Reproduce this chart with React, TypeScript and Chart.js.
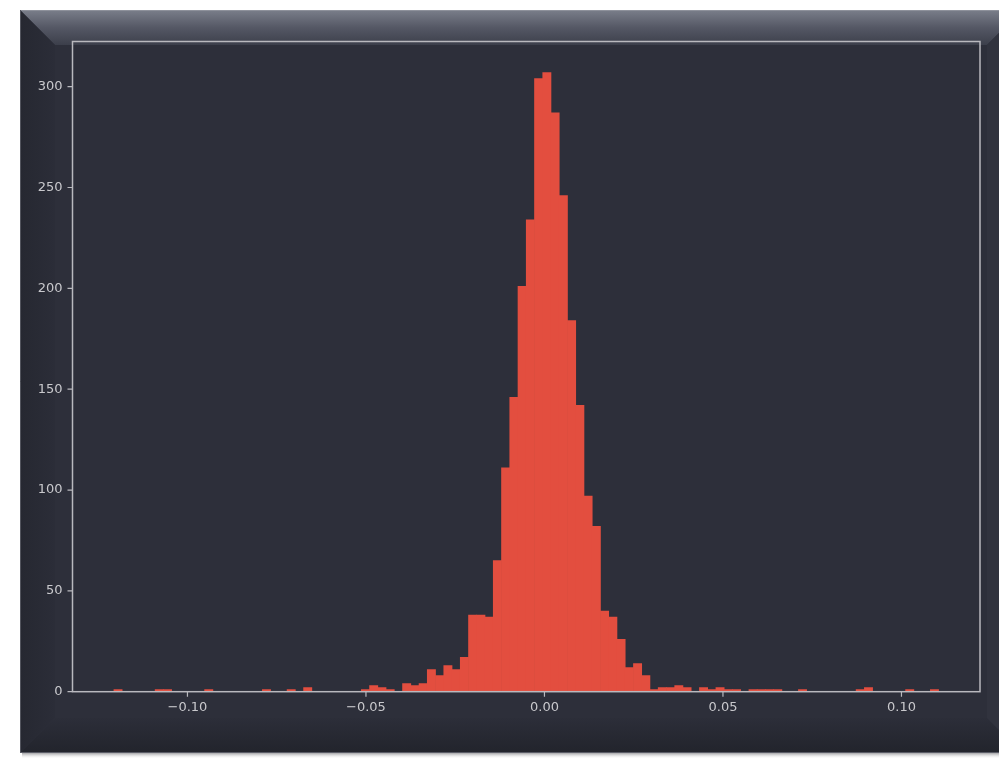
import { useEffect, useRef } from 'react';
import { Chart, registerables } from 'chart.js';

Chart.register(...registerables);

// Histogram definition (100 equal bins)
const binStart = -0.1206;
const binWidth = 0.00231;
const counts: number[] = [
  1, 0, 0, 0, 0, 1, 1, 0, 0, 0,
  0, 1, 0, 0, 0, 0, 0, 0, 1, 0,
  0, 1, 0, 2, 0, 0, 0, 0, 0, 0,
  1, 3, 2, 1, 0, 4, 3, 4, 11, 8,
  13, 11, 17, 38, 38, 37, 65, 111, 146, 201,
  234, 304, 307, 287, 246, 184, 142, 97, 82, 40,
  37, 26, 12, 14, 8, 1, 2, 2, 3, 2,
  0, 2, 1, 2, 1, 1, 0, 1, 1, 1,
  1, 0, 0, 1, 0, 0, 0, 0, 0, 0,
  1, 2, 0, 0, 0, 0, 1, 0, 0, 1,
];
const xTicks: number[] = [-0.1, -0.05, 0, 0.05, 0.1];
const yTicks: number[] = [0, 50, 100, 150, 200, 250, 300];

const X_MIN = -0.1322;
const X_MAX = 0.122;
const Y_MAX = 322.4;

const BAR_COLOR = '#e34e3f';
const TEXT_COLOR = '#c9c9cd';
const SPINE_COLOR = '#b9b9be';
const TICK_LEN = 5;

const fmtX = (v: number) => {
  const s = Math.abs(v).toFixed(2);
  return v < -1e-9 ? '\u2212' + s : s;
};

const framePlugin = {
  id: 'frame',
  beforeDraw(chart: any) {
    const ctx: CanvasRenderingContext2D = chart.ctx;
    const W = chart.width;
    const H = chart.height;
    ctx.save();
    ctx.fillStyle = '#ffffff';
    ctx.fillRect(0, 0, W, H);
    const x0 = 20, y0 = 10, x1 = 1022, y1 = 753, b = 35;
    const sh = ctx.createLinearGradient(0, y1, 0, y1 + 6);
    sh.addColorStop(0, 'rgba(90,90,95,0.55)');
    sh.addColorStop(1, 'rgba(255,255,255,0)');
    ctx.fillStyle = sh;
    ctx.fillRect(x0 + 2, y1, x1 - x0, 6);
    ctx.fillStyle = '#2d2f3a';
    ctx.fillRect(x0, y0, x1 - x0, y1 - y0);
    let g = ctx.createLinearGradient(0, y0, 0, y0 + b);
    g.addColorStop(0, '#7a7e8a');
    g.addColorStop(0.5, '#555865');
    g.addColorStop(1, '#3c3f4b');
    ctx.fillStyle = g;
    ctx.beginPath();
    ctx.moveTo(x0, y0); ctx.lineTo(x1, y0); ctx.lineTo(x1 - b, y0 + b); ctx.lineTo(x0 + b, y0 + b);
    ctx.closePath(); ctx.fill();
    g = ctx.createLinearGradient(x0, 0, x0 + b, 0);
    g.addColorStop(0, '#262831');
    g.addColorStop(1, '#2b2d38');
    ctx.fillStyle = g;
    ctx.beginPath();
    ctx.moveTo(x0, y0); ctx.lineTo(x0 + b, y0 + b); ctx.lineTo(x0 + b, y1 - b); ctx.lineTo(x0, y1);
    ctx.closePath(); ctx.fill();
    g = ctx.createLinearGradient(0, y1 - b, 0, y1);
    g.addColorStop(0, '#2c2e39');
    g.addColorStop(1, '#22242c');
    ctx.fillStyle = g;
    ctx.beginPath();
    ctx.moveTo(x0, y1); ctx.lineTo(x0 + b, y1 - b); ctx.lineTo(x1 - b, y1 - b); ctx.lineTo(x1, y1);
    ctx.closePath(); ctx.fill();
    ctx.fillStyle = '#31333e';
    ctx.beginPath();
    ctx.moveTo(x1 - b, y0 + b); ctx.lineTo(x1, y0); ctx.lineTo(x1, y1); ctx.lineTo(x1 - b, y1 - b);
    ctx.closePath(); ctx.fill();
    ctx.strokeStyle = '#8e919b';
    ctx.lineWidth = 1;
    ctx.beginPath(); ctx.moveTo(x0, y0 + 0.5); ctx.lineTo(x1, y0 + 0.5); ctx.stroke();
    ctx.strokeStyle = '#52545d';
    ctx.beginPath(); ctx.moveTo(x0 + 0.5, y0); ctx.lineTo(x0 + 0.5, y1); ctx.stroke();
    ctx.strokeStyle = '#5a5c66';
    ctx.beginPath(); ctx.moveTo(x0, y1 - 0.5); ctx.lineTo(x1, y1 - 0.5); ctx.stroke();
    ctx.restore();
  },
  afterDatasetsDraw(chart: any) {
    const { ctx, chartArea } = chart;
    const xs = chart.scales.x;
    const ys = chart.scales.y;
    ctx.save();
    ctx.strokeStyle = SPINE_COLOR;
    ctx.lineWidth = 1.5;
    ctx.strokeRect(chartArea.left, chartArea.top, chartArea.right - chartArea.left, chartArea.bottom - chartArea.top);
    ctx.lineWidth = 1.2;
    ctx.beginPath();
    xTicks.forEach((v) => {
      const px = xs.getPixelForValue(v);
      ctx.moveTo(px, chartArea.bottom);
      ctx.lineTo(px, chartArea.bottom + TICK_LEN);
    });
    yTicks.forEach((v) => {
      const py = ys.getPixelForValue(v);
      ctx.moveTo(chartArea.left, py);
      ctx.lineTo(chartArea.left - TICK_LEN, py);
    });
    ctx.stroke();
    ctx.restore();
  },
};

export default function App() {
  const ref = useRef<HTMLCanvasElement | null>(null);

  useEffect(() => {
    if (!ref.current) return;
    const data = counts.map((c, i) => ({ x: binStart + binWidth * (i + 0.5), y: c }));
    const chart = new Chart(ref.current, {
      type: 'bar',
      data: {
        datasets: [
          {
            data,
            backgroundColor: BAR_COLOR,
            borderWidth: 0,
            barPercentage: 1,
            categoryPercentage: 1,
          } as any,
        ],
      },
      options: {
        animation: false,
        responsive: false,
        devicePixelRatio: 1,
        layout: { padding: { left: 20, right: 19, top: 41.5, bottom: 39.3 } },
        plugins: { legend: { display: false }, tooltip: { enabled: false } },
        scales: {
          x: {
            type: 'linear',
            min: X_MIN,
            max: X_MAX,
            offset: false,
            afterBuildTicks: (s: any) => {
              s.ticks = xTicks.map((v) => ({ value: v }));
            },
            afterFit: (s: any) => {
              s.height = 30;
            },
            grid: { display: false, drawTicks: false },
            border: { display: false },
            ticks: {
              color: TEXT_COLOR,
              font: { family: 'DejaVu Sans', size: 13 },
              padding: 8,
              maxRotation: 0,
              autoSkip: false,
              callback: (v: any) => fmtX(Number(v)),
            },
          },
          y: {
            min: 0,
            max: Y_MAX,
            afterBuildTicks: (s: any) => {
              s.ticks = yTicks.map((v) => ({ value: v }));
            },
            afterFit: (s: any) => {
              s.width = 52.5;
            },
            grid: { display: false, drawTicks: false },
            border: { display: false },
            ticks: {
              color: TEXT_COLOR,
              font: { family: 'DejaVu Sans', size: 13 },
              padding: 10,
              autoSkip: false,
              callback: (v: any) => String(v),
            },
          },
        },
      },
      plugins: [framePlugin],
    });
    return () => chart.destroy();
  }, []);

  return (
    <div style={{ position: 'fixed', left: 0, top: 0, width: 999, height: 761, background: '#fff' }}>
      <canvas ref={ref} width={999} height={761} style={{ display: 'block', width: 999, height: 761 }} />
    </div>
  );
}
